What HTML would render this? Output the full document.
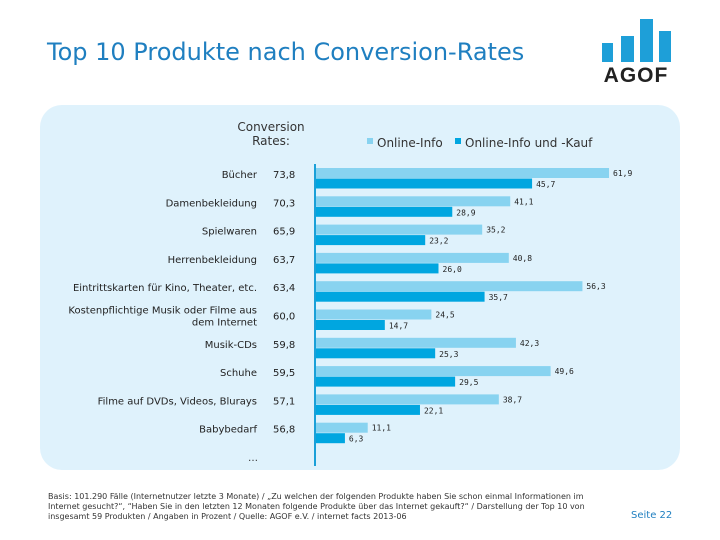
<!DOCTYPE html>
<html><head><meta charset="utf-8"><style>
body{margin:0;width:720px;height:540px;background:#fff;position:relative;font-family:"DejaVu Sans","Liberation Sans",sans-serif;overflow:hidden}
.abs{position:absolute}
</style></head><body>
<div class="abs" style="left:47px;top:38px;font-size:24px;color:#1f7fc0;font-family:'DejaVu Sans',sans-serif;white-space:nowrap">Top 10 Produkte nach Conversion-Rates</div>
<svg class="abs" style="left:0;top:0" width="720" height="540">
 <g>
  <rect x="602" y="43" width="11" height="19" fill="#1e9fd8"/>
  <rect x="621" y="36" width="13" height="26" fill="#1e9fd8"/>
  <rect x="640" y="19" width="13" height="43" fill="#1e9fd8"/>
  <rect x="659" y="31" width="12" height="31" fill="#1e9fd8"/>
  <text x="636" y="82" text-anchor="middle" font-family="Liberation Sans" font-weight="bold" font-size="21" fill="#222" letter-spacing="1">AGOF</text>
 </g>
 <rect x="40" y="105" width="640" height="365" rx="22" fill="#dff2fc"/>
 <g id="bars"></g>
</svg>
<div class="abs" style="left:48px;top:492px;font-size:8px;line-height:10px;color:#333;width:540px">Basis: 101.290 Fälle (Internetnutzer letzte 3 Monate) / „Zu welchen der folgenden Produkte haben Sie schon einmal Informationen im Internet gesucht?“, “Haben Sie in den letzten 12 Monaten folgende Produkte über das Internet gekauft?“ / Darstellung der Top 10 von insgesamt 59 Produkten / Angaben in Prozent / Quelle: AGOF e.V. / internet facts 2013-06</div>
<div class="abs" style="left:631px;top:510px;font-size:10px;color:#1f7fc0">Seite 22</div>
<script>
const categories=["Bücher","Damenbekleidung","Spielwaren","Herrenbekleidung","Eintrittskarten für Kino, Theater, etc.","Kostenpflichtige Musik oder Filme aus|dem Internet","Musik-CDs","Schuhe","Filme auf DVDs, Videos, Blurays","Babybedarf"];
const conversionRates=["73,8","70,3","65,9","63,7","63,4","60,0","59,8","59,5","57,1","56,8"];
const onlineInfo=[61.9,41.1,35.2,40.8,56.3,24.5,42.3,49.6,38.7,11.1];
const onlineKauf=[45.7,28.9,23.2,26.0,35.7,14.7,25.3,29.5,22.1,6.3];
const NS="http://www.w3.org/2000/svg";
const g=document.getElementById('bars');
const x0=315,scale=4.75,y0=168,step=28.3,bh=10;
const xs=v=>x0+v*scale;
const fmt=v=>v.toFixed(1).replace('.',',');
function mk(tag,attrs,txt){const e=document.createElementNS(NS,tag);for(const k in attrs)e.setAttribute(k,attrs[k]);if(txt!==undefined)e.textContent=txt;g.appendChild(e);return e;}
let t;
t=mk('text',{x:271,y:131,'text-anchor':'middle','font-size':12,fill:'#333'},'Conversion');


t=mk('text',{x:271,y:145,'text-anchor':'middle','font-size':12,fill:'#333'},'Rates:');


t=mk('rect',{x:367,y:138,width:6,height:6,fill:'#88d3f0'});


t=mk('text',{x:377,y:147,'font-size':12,fill:'#333'},'Online-Info');


t=mk('rect',{x:455,y:138,width:6,height:6,fill:'#00a6e0'});


t=mk('text',{x:465,y:147,'font-size':12,fill:'#333'},'Online-Info und -Kauf');


categories.forEach((c,i)=>{
 const yt=y0+i*step, cy=yt+bh-4;
 const lines=c.split('|');
 lines.forEach((ln,j)=>{
  const e=mk('text',{x:257,y:cy+4+(j-(lines.length-1)/2)*12,'text-anchor':'end','font-size':10,fill:'#222'},ln);
  
  
 });
 let e=mk('text',{x:273,y:cy+4,'font-size':10,fill:'#222'},conversionRates[i]);
 
 
 e=mk('rect',{x:x0,y:yt,width:xs(onlineInfo[i])-x0,height:bh,fill:'#88d3f0'});
 
 
 e=mk('rect',{x:x0,y:yt+bh+0.5,width:xs(onlineKauf[i])-x0,height:bh,fill:'#00a6e0'});
 
 
 e=mk('text',{x:xs(onlineInfo[i])+4,y:yt+8,'font-size':8,'font-family':'DejaVu Sans Mono,monospace',fill:'#222'},fmt(onlineInfo[i]));
 
 
 e=mk('text',{x:xs(onlineKauf[i])+4,y:yt+bh+9,'font-size':8,'font-family':'DejaVu Sans Mono,monospace',fill:'#222'},fmt(onlineKauf[i]));
 
 
});
t=mk('line',{x1:x0,y1:164,x2:x0,y2:466,stroke:'#1aa0d8','stroke-width':2});


t=mk('text',{x:248,y:461,'font-size':10,fill:'#333'},'…');


</script>
</body></html>
